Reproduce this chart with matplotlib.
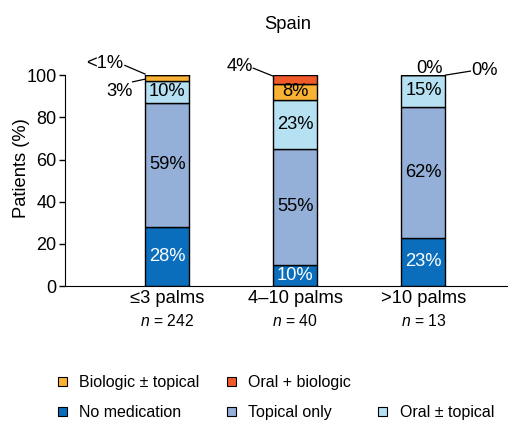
import matplotlib
matplotlib.use("Agg")
import matplotlib.pyplot as plt
from matplotlib.patches import Patch
import numpy as np

plt.rcParams['font.family'] = ['Liberation Sans', 'DejaVu Sans']
plt.rcParams['mathtext.fontset'] = 'custom'
plt.rcParams['mathtext.it'] = 'Liberation Sans:italic'
plt.rcParams['mathtext.rm'] = 'Liberation Sans'

# data
groups = ["\u22643 palms", "4\u201310 palms", ">10 palms"]
n_values = [242, 40, 13]
no_medication = [28, 10, 23]
topical_only = [59, 55, 62]
oral_topical = [10, 23, 15]
biologic_topical = [3, 8, 0]
oral_biologic = [0.6, 4, 0]

series = [
    ("No medication", no_medication, "#0a6ebd"),
    ("Topical only", topical_only, "#94afd8"),
    ("Oral \u00b1 topical", oral_topical, "#b5e1f3"),
    ("Biologic \u00b1 topical", biologic_topical, "#f9b233"),
    ("Oral + biologic", oral_biologic, "#f05a28"),
]

FS = 13.2

fig = plt.figure(figsize=(5.08, 4.22), dpi=100)
ax = fig.add_axes([0.128, 0.322, 0.872, 0.500])

x = np.arange(len(groups))
width = 0.344
bottom = np.zeros(len(groups))
bars = {}
for name, vals, color in series:
    ax.bar(x, vals, width, bottom=bottom, color=color,
           edgecolor="black", linewidth=1.0)
    bars[name] = (np.array(vals, dtype=float), bottom.copy())
    bottom += np.array(vals, dtype=float)

# labels inside the bars
for name in ["No medication", "Topical only", "Oral \u00b1 topical", "Biologic \u00b1 topical"]:
    vals, bot = bars[name]
    for i, v in enumerate(vals):
        if v < 8:
            continue
        col = "white" if name == "No medication" else "black"
        ax.text(x[i], bot[i] + v / 2, f"{v:g}%", ha="center", va="center",
                fontsize=FS, color=col)

# callout labels for the small segments
kw = dict(ha="center", va="center", fontsize=FS, clip_on=False)
lkw = dict(color="black", lw=0.9, clip_on=False)
ax.text(-0.49, 105.7, "<1%", **kw)
ax.plot([-0.33, -0.172], [104.6, 100.5], **lkw)
ax.text(-0.375, 92.0, "3%", **kw)
ax.plot([-0.27, -0.172], [96.8, 98.1], **lkw)
ax.text(0.57, 104.3, "4%", **kw)
ax.plot([0.672, 0.828], [103.3, 99.5], **lkw)
ax.text(2.047, 103.3, "0%", **kw)
ax.text(2.477, 102.4, "0%", **kw)
ax.plot([2.172, 2.367], [100.0, 101.9], **lkw)

ax.set_xlim(-0.797, 2.66)
ax.set_ylim(0, 100)
ax.set_yticks([0, 20, 40, 60, 80, 100])
ax.tick_params(axis="y", labelsize=13, length=4, width=1, direction="out", pad=2)
ax.set_xticks(x)
ax.set_xticklabels(groups, fontsize=FS)
ax.tick_params(axis="x", length=0, pad=3)
for i, n in enumerate(n_values):
    ax.annotate(f"$n$ = {n}", xy=(x[i], 0), xycoords=("data", "axes fraction"),
                xytext=(0, -25.3), textcoords="offset points",
                ha="center", va="center", fontsize=11.3)

ax.spines["top"].set_visible(False)
ax.spines["right"].set_visible(False)
ax.set_ylabel("Patients (%)", fontsize=FS)
ax.yaxis.set_label_coords(-0.078, 0.56)
fig.text(0.567, 0.943, "Spain", ha="center", va="center", fontsize=FS)

# legend
handles = {name: Patch(facecolor=c, edgecolor="black", linewidth=0.8)
           for name, _, c in series}
blank = Patch(facecolor="none", edgecolor="none")
order = [("Biologic \u00b1 topical", handles["Biologic \u00b1 topical"]),
         ("No medication", handles["No medication"]),
         ("Oral + biologic", handles["Oral + biologic"]),
         ("Topical only", handles["Topical only"]),
         ("", blank),
         ("Oral \u00b1 topical", handles["Oral \u00b1 topical"])]
fig.legend([h for _, h in order], [l for l, _ in order], ncol=3,
           loc="upper left", bbox_to_anchor=(0.114, 0.111), frameon=False,
           borderpad=0, borderaxespad=0,
           fontsize=11.5, handlelength=0.55, handleheight=0.55,
           handletextpad=0.8, columnspacing=1.7, labelspacing=0.95)

fig.savefig("out.png", dpi=100)
